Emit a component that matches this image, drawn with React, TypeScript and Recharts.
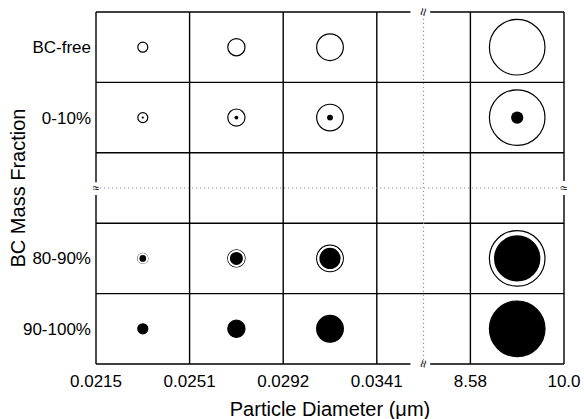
import React from "react";
import { ScatterChart, Scatter, XAxis, YAxis, ReferenceLine, ReferenceDot } from "recharts";

// tick labels along the bottom (column edges) and left (row centres, bottom -> top)
const diameterTicks = ["0.0215", "0.0251", "0.0292", "0.0341", "8.58", "10.0"];
const fractionTicks = ["90-100%", "80-90%", "0-10%", "BC-free"];
const fractionTickPos = [0.5, 1.5, 3.5, 4.5];

// size bins that hold a particle (column index) and their relative particle size
const sizeBins = [0, 1, 2, 4];
const relSize = [0.18, 0.31, 0.48, 1.0];

// BC classes (row index from bottom) and the core / particle radius ratio
const bcRows = [4, 3, 1, 0];
const coreRatio = [0, 0.22, 0.87, 1];

const gridAt = [1, 2, 3, 4];
const R_MAX = 27.8;
const FONT = '"Liberation Sans", Arial, Helvetica, sans-serif';

const cells = bcRows.flatMap((row, i) =>
  sizeBins.map((col, j) => ({ x: col + 0.5, y: row + 0.5, size: relSize[j], core: coreRatio[i] }))
);

function Particle(props: any) {
  const { cx, cy, payload } = props;
  const r = payload.size * R_MAX;
  const full = payload.core >= 1;
  return (
    <g>
      <circle cx={cx} cy={cy} r={r} fill={full ? "#000" : "#fff"} stroke="#000" strokeWidth={1.2} />
      {payload.core > 0 && !full && (
        <circle
          cx={cx}
          cy={cy}
          r={payload.core * r}
          fill="#000"
          stroke={payload.core > 0.5 ? "#fff" : "none"}
          strokeWidth={2}
        />
      )}
    </g>
  );
}

function YTitle(props: any) {
  const vb = props.viewBox || { x: 16, y: 12, height: 352 };
  const x = vb.x + 2;
  const y = vb.y + vb.height / 2;
  return (
    <text x={x} y={y} transform={`rotate(-90 ${x} ${y})`} textAnchor="middle" dominantBaseline="central" fontSize={20} fill="#000">
      BC Mass Fraction
    </text>
  );
}

const line = { stroke: "#000", strokeWidth: 1.4 };
const dotted = { stroke: "#888", strokeWidth: 1, strokeDasharray: "1.2 2.8" };
const breakMark = { value: "≈", position: "center" as const, fontSize: 12, fill: "#000" };
const breakMarkV = { value: "≈", position: "center" as const, fontSize: 14, fill: "#000", angle: 100 };

export default function App() {
  return (
    <div style={{ position: "absolute", left: 0, top: 0, fontFamily: FONT }}>
      <ScatterChart width={584} height={419} margin={{ top: 12, right: 20, bottom: 25, left: 16 }}>
        <XAxis
          type="number"
          dataKey="x"
          domain={[0, 5]}
          ticks={[0, 1, 2, 3, 4, 5]}
          tickFormatter={(v: number) => diameterTicks[v]}
          axisLine={false}
          tickLine={false}
          tickSize={0}
          tickMargin={11}
          height={30}
          interval={0}
          tick={{ fill: "#000", fontSize: 17 }}
          label={{ value: "Particle Diameter (μm)", position: "bottom", offset: 8, fontSize: 20, fill: "#000" }}
        />
        <YAxis
          type="number"
          dataKey="y"
          domain={[0, 5]}
          ticks={fractionTickPos}
          tickFormatter={(v: number) => fractionTicks[fractionTickPos.indexOf(v)]}
          axisLine={false}
          tickLine={false}
          tickSize={0}
          tickMargin={5}
          width={80}
          interval={0}
          tick={{ fill: "#000", fontSize: 17 }}
          label={<YTitle />}
        />
        {gridAt.map((v) => (
          <ReferenceLine key={"gx" + v} x={v} {...line} />
        ))}
        {gridAt.map((v) => (
          <ReferenceLine key={"gy" + v} y={v} {...line} />
        ))}
        {/* frame, broken where the axes are cut */}
        <ReferenceLine segment={[{ x: 0, y: 5 }, { x: 3.36, y: 5 }]} {...line} />
        <ReferenceLine segment={[{ x: 3.57, y: 5 }, { x: 5, y: 5 }]} {...line} />
        <ReferenceLine segment={[{ x: 0, y: 0 }, { x: 3.36, y: 0 }]} {...line} />
        <ReferenceLine segment={[{ x: 3.57, y: 0 }, { x: 5, y: 0 }]} {...line} />
        <ReferenceLine segment={[{ x: 0, y: 0 }, { x: 0, y: 2.4 }]} {...line} />
        <ReferenceLine segment={[{ x: 0, y: 2.58 }, { x: 0, y: 5 }]} {...line} />
        <ReferenceLine segment={[{ x: 5, y: 0 }, { x: 5, y: 2.4 }]} {...line} />
        <ReferenceLine segment={[{ x: 5, y: 2.6 }, { x: 5, y: 5 }]} {...line} />
        <ReferenceLine x={3.5} {...dotted} />
        <ReferenceLine y={2.5} {...dotted} />
        <ReferenceDot x={0} y={2.5} r={0} fill="none" stroke="none" ifOverflow="visible" label={breakMark} />
        <ReferenceDot x={5} y={2.5} r={0} fill="none" stroke="none" ifOverflow="visible" label={breakMark} />
        <ReferenceDot x={3.5} y={5} r={0} fill="none" stroke="none" ifOverflow="visible" label={breakMarkV} />
        <ReferenceDot x={3.5} y={0} r={0} fill="none" stroke="none" ifOverflow="visible" label={breakMarkV} />
        <Scatter data={cells} shape={<Particle />} isAnimationActive={false} />
      </ScatterChart>
    </div>
  );
}
